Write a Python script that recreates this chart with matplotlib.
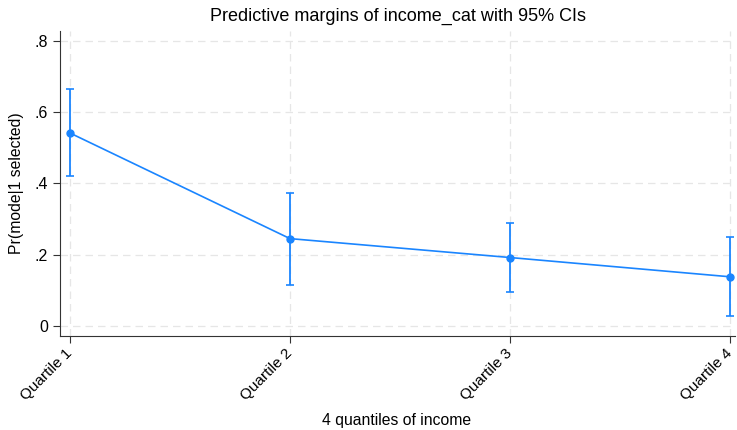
import matplotlib
matplotlib.use("Agg")
import matplotlib.pyplot as plt

plt.rcParams['font.family'] = ['Liberation Sans', 'DejaVu Sans']

quartiles = [1, 2, 3, 4]
labels = ["Quartile 1", "Quartile 2", "Quartile 3", "Quartile 4"]
margins = [0.541, 0.245, 0.192, 0.138]
ci_low = [0.420, 0.115, 0.095, 0.027]
ci_high = [0.665, 0.374, 0.288, 0.249]
yticks = [0, 0.2, 0.4, 0.6, 0.8]
ytick_labels = ["0", ".2", ".4", ".6", ".8"]

blue = "#1a85ff"

fig = plt.figure(figsize=(7.37, 4.30), dpi=100)
ax = fig.add_axes([60/737, 94/430, 675/737, 305/430])

yerr = [[m - l for m, l in zip(margins, ci_low)], [h - m for m, h in zip(margins, ci_high)]]
ax.errorbar(quartiles, margins, yerr=yerr, color=blue, lw=1.2, marker="o", ms=5,
            capsize=3, capthick=1.2, elinewidth=1.3, zorder=3)

ax.set_xlim(1 - 10/220, 4 + 5/220)
ax.set_ylim(-0.028, 0.827)
ax.set_xticks(quartiles)
ax.set_xticklabels(labels, rotation=45, ha="right", va="center", rotation_mode="anchor", fontsize=11)
ax.set_yticks(yticks)
ax.set_yticklabels(ytick_labels, fontsize=11.5)
ax.grid(True, color="#e6e6e6", ls=(0, (6, 4)), lw=0.9)
ax.set_axisbelow(True)

for s in ["top", "right"]:
    ax.spines[s].set_visible(False)
ax.spines["left"].set_color("#333333")
ax.spines["bottom"].set_color("#333333")
ax.tick_params(direction="out", length=5, color="#333333")
ax.tick_params(axis="x", pad=6)

ax.set_title("Predictive margins of income_cat with 95% CIs", fontsize=13, pad=7)
fig.text(397/737, 1 - 420/430, "4 quantiles of income", fontsize=11.3, ha="center", va="center")
ax.set_ylabel("Pr(mode|1 selected)", fontsize=11.3, labelpad=8)

fig.savefig("out.png", dpi=100)
